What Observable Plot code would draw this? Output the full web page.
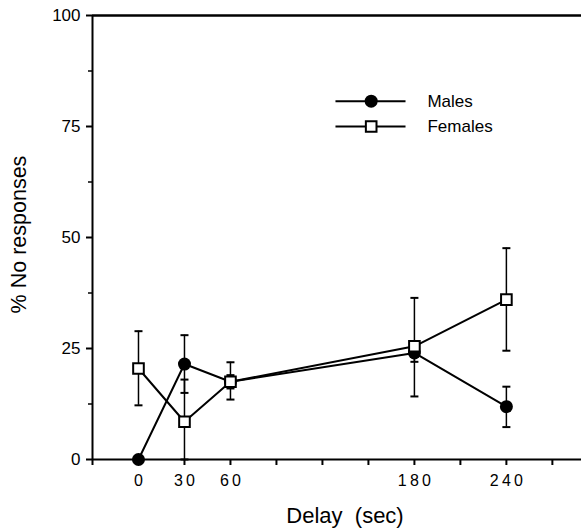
<!DOCTYPE html>
<html>
<head>
<meta charset="utf-8">
<script src="https://cdn.jsdelivr.net/npm/d3@7"></script>
<script src="https://cdn.jsdelivr.net/npm/@observablehq/plot@0.6"></script>
<style>
  html, body { margin: 0; padding: 0; background: #fff; }
  #chart svg { display: block; }
</style>
</head>
<body>
<div id="chart"></div>
<script>
// Data
const delays = [0, 30, 60, 180, 240];
const malesMean = [0, 21.5, 17.5, 24, 11.9];
const malesLow = [null, 15, 16, 22, 7.3];
const malesHigh = [null, 28, 19, 26, 16.4];
const femalesMean = [20.5, 8.5, 17.5, 25.5, 36];
const femalesLow = [12.2, 0, 13.5, 14.2, 24.5];
const femalesHigh = [28.9, 18, 21.9, 36.4, 47.6];

const xLabelTicks = [0, 30, 60, 180, 240];
const xMarkTicks = [-30, 30, 60, 90, 120, 150, 180, 210, 240, 270];
const yMajorTicks = [0, 25, 50, 75, 100];
const yMinorTicks = [12.5, 37.5, 62.5, 87.5];

const legendLabels = ["Males", "Females"];

const males = delays.map((d, i) => ({x: d, y: malesMean[i], lo: malesLow[i], hi: malesHigh[i]}));
const females = delays.map((d, i) => ({x: d, y: femalesMean[i], lo: femalesLow[i], hi: femalesHigh[i]}));
const malesErr = males.filter(d => d.lo != null);

// legend placement (in data units)
const legX1 = 128.5, legX2 = 174.2, legMark = 151.8, legText = 188.5;
const legRows = [80.7, 75.0];
const legend = legendLabels.map((l, i) => ({label: l, y: legRows[i]}));

const cap = { draw(ctx) { ctx.moveTo(-4, 0); ctx.lineTo(4, 0); } };
const spaced = d => String(d).split("").join("\u2009");

const font = "Liberation Sans, Arial, Helvetica, sans-serif";

const plot = Plot.plot({
  width: 581,
  height: 531,
  marginLeft: 92,
  marginRight: 0,
  marginTop: 15,
  marginBottom: 72,
  style: { fontFamily: font, background: "#fff", color: "#000" },
  x: { domain: [-30, 289], axis: null },
  y: { domain: [0, 100], axis: null },
  marks: [
    // frame lines
    Plot.ruleY([100], { stroke: "#000", strokeWidth: 2.5 }),
    Plot.ruleY([0], { stroke: "#000", strokeWidth: 2 }),
    Plot.ruleX([-30], { stroke: "#000", strokeWidth: 2 }),
    // axis ticks
    Plot.axisX({ ticks: xMarkTicks, tickFormat: () => "", tickSize: 6, strokeWidth: 2, label: null }),
    Plot.axisY({ ticks: yMajorTicks, tickSize: 6, tickFormat: () => "", strokeWidth: 2, label: null }),
    Plot.axisY({ ticks: yMinorTicks, tickSize: 4, tickFormat: () => "", strokeWidth: 1.5, label: null }),
    // tick labels
    Plot.text(xLabelTicks, { x: d => d, y: () => 0, text: spaced, lineAnchor: "top", dy: 15, fontSize: 16, fill: "#000" }),
    Plot.text(yMajorTicks, { x: () => -30, y: d => d, text: d => String(d), textAnchor: "end", dx: -12, fontSize: 17, fill: "#000" }),
    // axis titles
    Plot.text(["% No responses"], { frameAnchor: "left", textAnchor: "middle", rotate: -90, dx: -73, dy: -3, fontSize: 21.5, fill: "#000" }),
    Plot.text(["Delay\u00a0 (sec)"], { frameAnchor: "bottom", lineAnchor: "bottom", dx: 8, dy: 63, fontSize: 22, fill: "#000" }),
    // males
    Plot.line(males, { x: "x", y: "y", stroke: "#000", strokeWidth: 2 }),
    Plot.ruleX(malesErr, { x: "x", y1: "lo", y2: "hi", stroke: "#000", strokeWidth: 1.5 }),
    Plot.dot(malesErr, { x: "x", y: "lo", symbol: cap, stroke: "#000", strokeWidth: 2 }),
    Plot.dot(malesErr, { x: "x", y: "hi", symbol: cap, stroke: "#000", strokeWidth: 2 }),
    Plot.dot(males, { x: "x", y: "y", r: 6.5, fill: "#000", stroke: "none" }),
    // females
    Plot.line(females, { x: "x", y: "y", stroke: "#000", strokeWidth: 2 }),
    Plot.ruleX(females, { x: "x", y1: "lo", y2: "hi", stroke: "#000", strokeWidth: 1.5 }),
    Plot.dot(females, { x: "x", y: "lo", symbol: cap, stroke: "#000", strokeWidth: 2 }),
    Plot.dot(females, { x: "x", y: "hi", symbol: cap, stroke: "#000", strokeWidth: 2 }),
    Plot.dot(females, { x: "x", y: "y", symbol: "square", r: 6, fill: "#fff", stroke: "#000", strokeWidth: 2 }),
    // legend
    Plot.link(legend, { x1: () => legX1, x2: () => legX2, y1: "y", y2: "y", stroke: "#000", strokeWidth: 2 }),
    Plot.dot(legend.slice(0, 1), { x: () => legMark, y: "y", r: 6.5, fill: "#000" }),
    Plot.dot(legend.slice(1), { x: () => legMark, y: "y", symbol: "square", r: 6, fill: "#fff", stroke: "#000", strokeWidth: 2 }),
    Plot.text(legend, { x: () => legText, y: "y", text: "label", textAnchor: "start", fontSize: 17, fill: "#000" })
  ]
});
document.getElementById("chart").appendChild(plot);
</script>
</body>
</html>
